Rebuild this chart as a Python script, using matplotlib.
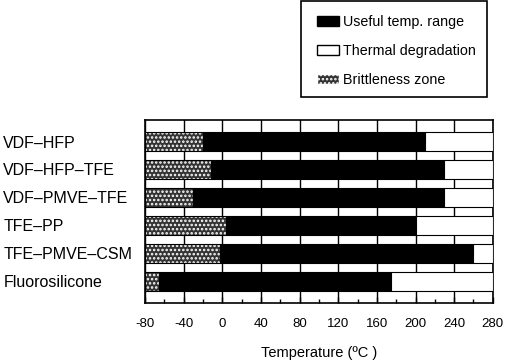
import matplotlib
matplotlib.use("Agg")
import matplotlib.pyplot as plt
from matplotlib.patches import Patch, Rectangle
import numpy as np

plt.rcParams['font.family'] = ['Liberation Sans', 'DejaVu Sans']
plt.rcParams['hatch.linewidth'] = 1.2

polymers = ["VDF–HFP", "VDF–HFP–TFE", "VDF–PMVE–TFE", "TFE–PP", "TFE–PMVE–CSM", "Fluorosilicone"]
brittle_start = [-80, -80, -80, -80, -80, -80]
useful_start = [-20, -12, -30, 4, -2, -65]
useful_end = [210, 230, 230, 200, 260, 175]
degradation_end = [280, 280, 280, 280, 280, 280]
xticks = [-80, -40, 0, 40, 80, 120, 160, 200, 240, 280]

fig = plt.figure(figsize=(5.07, 3.64), dpi=100)
ax = fig.add_axes([0.286, 0.1676, 0.686, 0.5034])

y = np.arange(len(polymers))
h = 0.68
bs = np.array(brittle_start); us = np.array(useful_start)
ue = np.array(useful_end); de = np.array(degradation_end)

ax.barh(y, us - bs, left=bs, height=h, color='#333333', edgecolor='white',
        hatch='....', linewidth=0, zorder=3)
ax.barh(y, us - bs, left=bs, height=h, color='none', edgecolor='black',
        linewidth=0.8, zorder=4)
ax.barh(y, ue - us, left=us, height=h, color='black', edgecolor='black',
        linewidth=0.8, zorder=3)
ax.barh(y, de - ue, left=ue, height=h, color='white', edgecolor='black',
        linewidth=0.8, zorder=3)

ax.set_xlim(-80, 280)
ax.set_ylim(5.78, -0.78)
ax.set_xticks(xticks)
ax.set_xticks(np.arange(-80, 281, 20), minor=True)
ax.set_xticklabels([str(t) for t in xticks], fontsize=9.5)
ax.tick_params(axis='x', direction='in', length=4, width=1, pad=11)
ax.tick_params(axis='x', which='minor', direction='in', length=3, width=1)
ax.set_yticks(y)
ax.set_yticklabels(polymers, fontsize=11.5)
ax.tick_params(axis='y', length=0, pad=102)
for lab in ax.get_yticklabels():
    lab.set_ha('left')
ax.grid(axis='x', which='major', color='black', linewidth=1, zorder=1)
ax.set_axisbelow(True)
for s in ax.spines.values():
    s.set_linewidth(1.2)
ax.set_xlabel("Temperature (ºC )", fontsize=10.5, labelpad=11)

handles = [Patch(facecolor='black', edgecolor='black', label='Useful temp. range'),
           Patch(facecolor='white', edgecolor='black', label='Thermal degradation'),
           Patch(facecolor='#333333', edgecolor='white', hatch='....', label='Brittleness zone')]
fs = 10.3
fpx = fs * 100 / 72
leg = fig.legend(handles=handles, loc='center left', bbox_to_anchor=(317/507, 1 - 51/364),
                 frameon=False, fontsize=fs, handlelength=22/fpx,
                 handleheight=10/fpx, handletextpad=4/fpx, labelspacing=1.05,
                 borderpad=0, borderaxespad=0)
fig.patches.append(Rectangle((301/507, 1 - 97/364), 186/507, 96/364, fill=False,
                             edgecolor='black', linewidth=1.2, transform=fig.transFigure))

fig.savefig("out.png", dpi=100)
